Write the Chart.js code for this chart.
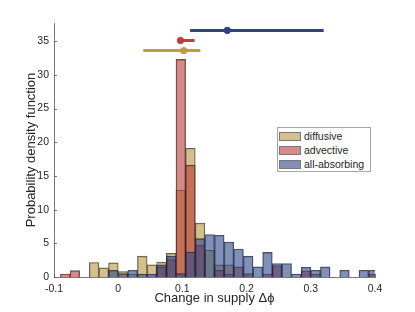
<!DOCTYPE html>
<html>
<head>
<meta charset="utf-8">
<script src="https://cdn.jsdelivr.net/npm/chart.js@4.4.1/dist/chart.umd.min.js"></script>
<style>
  html, body { margin: 0; padding: 0; background: #fff; }
  #wrap { position: relative; width: 415px; height: 312px; }
  #legendBox {
    position: absolute; left: 277px; top: 127px; width: 94px; height: 45px;
    border: 1px solid #a6a6a6; background: #fff; box-sizing: border-box;
    font-family: "Liberation Sans", Arial, sans-serif; font-size: 10.5px; color: #262626;
  }
  .row { position: absolute; left: 1px; height: 9px; width: 90px; }
  .sw { position: absolute; left: 0; top: 0; width: 22px; height: 9px; box-sizing: border-box; border: 1px solid #777; }
  .lab { position: absolute; left: 25px; top: -2px; line-height: 13px; white-space: nowrap; }
</style>
</head>
<body>
<div id="wrap">
  <canvas id="histChart" width="415" height="312"></canvas>
  <div id="legendBox"></div>
</div>
<script>
// ================= DATA =================
const binCenters = [
  -0.0825, -0.0675, -0.0525, -0.0375, -0.0225, -0.0075, 0.0075, 0.0225, 0.0375, 0.0525, 0.0675,
  0.0825, 0.0975, 0.1125, 0.1275, 0.1425, 0.1575, 0.1725, 0.1875, 0.2025, 0.2175, 0.2325,
  0.2475, 0.2625, 0.2775, 0.2925, 0.3075, 0.3225, 0.3375, 0.3525, 0.3675, 0.3825, 0.3975,
];

const diffusive = [
  0, 0, 0, 2.15, 1.35, 2.1, 0.8, 0.45, 3.1, 1.8, 2.2,
  3.5, 12.9, 19.1, 8.0, 4.0, 1.8, 1.8, 0, 0, 0, 0,
  0, 0, 0, 0, 0, 0, 0, 0, 0, 0, 0,
];

const advective = [
  0.45, 0.95, 0, 0, 0, 0, 0, 0, 0, 0, 1.5,
  2.6, 32.3, 16.6, 4.75, 0, 1.0, 0.45, 1.5, 0.5, 0, 0.45,
  1.7, 0, 0, 0.9, 0.45, 0, 0, 0, 0, 0, 0.45,
];

const allAbsorbing = [
  0, 0, 0, 0, 0, 1.0, 0.5, 1.0, 0.45, 0.45, 1.8,
  3.1, 0.5, 3.7, 5.7, 6.3, 6.2, 5.2, 4.15, 3.1, 1.5, 3.65,
  2.0, 2.0, 0.45, 1.45, 1.0, 1.5, 0, 1.0, 0, 1.0, 1.0,
];

// error bars on top: mean and range of each model
const errNames = ["diffusive", "advective", "all-absorbing"];
const errMean = [0.102, 0.097, 0.17];
const errLow = [0.039, 0.094, 0.112];
const errHigh = [0.128, 0.119, 0.32];
const errLevel = [33.6, 35.1, 36.6];

const xTicks = [-0.1, 0, 0.1, 0.2, 0.3, 0.4];
const yTicks = [0, 5, 10, 15, 20, 25, 30, 35];

// ================= STYLE =================
const faceColors = ["rgba(183,150,67,0.6)", "rgba(183,60,53,0.6)", "rgba(43,70,137,0.6)"];
const lineColors = ["#c09b45", "#bf3f38", "#2d4382"];

Chart.defaults.font.family = '"Liberation Sans", Arial, sans-serif';
Chart.defaults.color = "#262626";

function toPoints(values) {
  return values.map((v, i) => ({ x: binCenters[i], y: v === 0 ? null : v }));
}

const histSeries = [diffusive, advective, allAbsorbing];

const datasets = [];

histSeries.forEach((vals, k) => {
  datasets.push({
    type: "bar",
    label: errNames[k],
    data: toPoints(vals),
    backgroundColor: faceColors[k],
    borderColor: "rgba(30,30,30,0.75)",
    borderWidth: 0.7,
    grouped: false,
    barPercentage: 1,
    categoryPercentage: 1,
    order: 3 - k,
  });
});

errNames.forEach((name, k) => {
  datasets.push({
    type: "line",
    label: name + " range",
    data: [
      { x: errLow[k], y: errLevel[k] },
      { x: errHigh[k], y: errLevel[k] },
    ],
    borderColor: lineColors[k],
    borderWidth: 3,
    pointRadius: 0,
    order: 0,
  });
  datasets.push({
    type: "line",
    label: name + " mean",
    data: [{ x: errMean[k], y: errLevel[k] }],
    showLine: false,
    pointRadius: 3.2,
    pointBackgroundColor: lineColors[k],
    pointBorderColor: lineColors[k],
    order: 0,
  });
});

/* ================= INWARD TICKS ================= */
const inwardTicks = {
  id: "inwardTicks",
  afterDraw(chart) {
    const { ctx, chartArea, scales } = chart;
    ctx.save();
    ctx.strokeStyle = "#555";
    ctx.lineWidth = 0.8;
    yTicks.forEach((t) => {
      const y = Math.round(scales.y.getPixelForValue(t)) + 0.5;
      ctx.beginPath();
      ctx.moveTo(chartArea.left, y);
      ctx.lineTo(chartArea.left + 3, y);
      ctx.stroke();
    });
    xTicks.forEach((t) => {
      const x = Math.round(scales.x.getPixelForValue(t)) + 0.5;
      ctx.beginPath();
      ctx.moveTo(x, chartArea.bottom);
      ctx.lineTo(x, chartArea.bottom - 3);
      ctx.stroke();
    });
    ctx.restore();
  },
};

new Chart(document.getElementById("histChart"), {
  type: "bar",
  data: { datasets: datasets },
  plugins: [inwardTicks],
  options: {
    responsive: false,
    animation: false,
    layout: { padding: { top: 23, right: 40, left: 0, bottom: 0 } },
    plugins: { legend: { display: false }, tooltip: { enabled: false } },
    scales: {
      x: {
        type: "linear",
        offset: false,
        min: -0.1,
        max: 0.4,
        afterFit: (s) => { s.height = 35; },
        afterBuildTicks: (s) => { s.ticks = xTicks.map((v) => ({ value: v })); },
        grid: { display: false, drawTicks: false },
        border: { display: true, color: "#555", width: 0.8 },
        ticks: {
          padding: 6,
          font: { size: 10.5 },
          maxRotation: 0,
          callback: (v) => (Math.abs(v) < 1e-9 ? "0" : String(Math.round(v * 10) / 10)),
        },
        title: {
          display: true,
          text: "Change in supply \u0394\u03D5",
          font: { size: 13 },
          padding: { top: 0, bottom: 6 },
        },
      },
      y: {
        min: 0,
        max: 37.7,
        afterFit: (s) => { s.width = 54; },
        afterBuildTicks: (s) => { s.ticks = yTicks.map((v) => ({ value: v })); },
        grid: { display: false, drawTicks: false },
        border: { display: true, color: "#555", width: 0.8 },
        ticks: { padding: 5, font: { size: 10.5 } },
        title: {
          display: true,
          text: "Probability density function",
          font: { size: 13 },
          padding: { top: 24, bottom: 0 },
        },
      },
    },
  },
});

// ================= LEGEND =================
const legendBox = document.getElementById("legendBox");
errNames.forEach((name, k) => {
  const row = document.createElement("div");
  row.className = "row";
  row.style.top = 4 + k * 14.2 + "px";
  row.innerHTML = `<div class="sw" style="background:${faceColors[k]}"></div><div class="lab">${name}</div>`;
  legendBox.appendChild(row);
});
</script>
</body>
</html>
